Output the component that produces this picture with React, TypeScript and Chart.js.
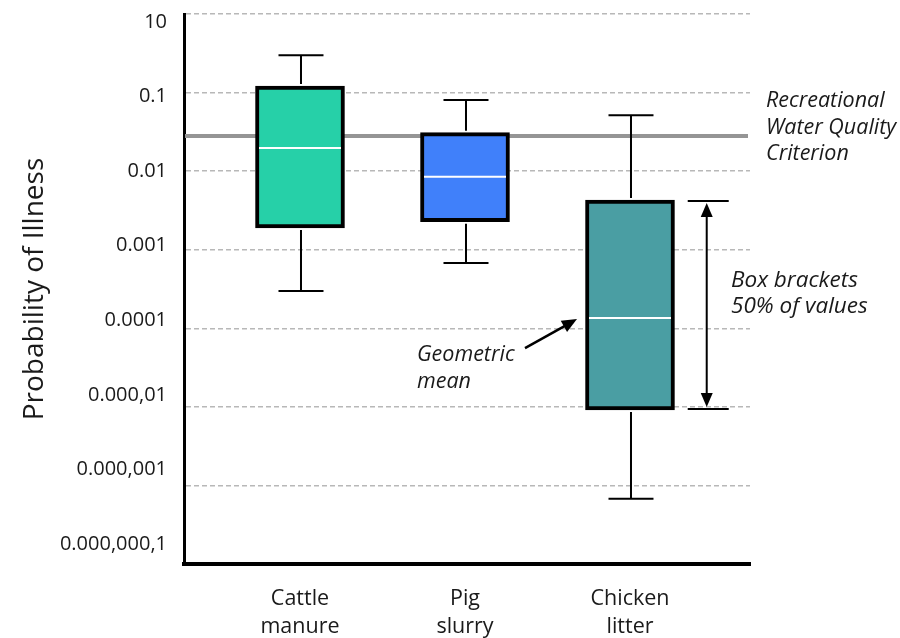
import React, { useEffect, useRef } from 'react';
import { Chart, registerables } from 'chart.js';

Chart.register(...registerables);

// ---- data ----
const categories = [['Cattle', 'manure'], ['Pig', 'slurry'], ['Chicken', 'litter']];
const whiskerHigh = [0.298, 0.0804, 0.0514];
const boxTop = [0.121, 0.0309, 0.00429];
const geoMean = [0.0197, 0.0085, 0.000135];
const boxBottom = [0.00189, 0.00227, 0.00000912];
const whiskerLow = [0.000298, 0.000678, 0.000000678];
const criterion = 0.028;
const yTickLabels = ['10', '0.1', '0.01', '0.001', '0.0001', '0.000,01', '0.000,001', '0.000,000,1'];
const gridDecades = [1, 0.1, 0.01, 0.001, 0.0001, 0.00001, 0.000001, 0.0000001];

// ---- styles ----
const boxColors = ['#26d0a8', '#4080fa', '#4a9ea3'];
const FONT = '"Open Sans", "Noto Sans", sans-serif';
const TEXT = '#1a1a1a';

function arrowHead(ctx: CanvasRenderingContext2D, x1: number, y1: number, x2: number, y2: number, len: number, halfW: number) {
  const a = Math.atan2(y2 - y1, x2 - x1);
  const c = Math.cos(a), s = Math.sin(a);
  ctx.beginPath();
  ctx.moveTo(x2, y2);
  ctx.lineTo(x2 - len * c + halfW * s, y2 - len * s - halfW * c);
  ctx.lineTo(x2 - len * c - halfW * s, y2 - len * s + halfW * c);
  ctx.closePath();
  ctx.fill();
}

const boxPlugin = {
  id: 'boxExtras',
  beforeDatasetsDraw(chart: any) {
    const { ctx, chartArea, scales } = chart;
    const y = scales.y;
    const yc = y.getPixelForValue(criterion);
    ctx.save();
    ctx.strokeStyle = '#959595';
    ctx.lineWidth = 4;
    ctx.beginPath();
    ctx.moveTo(chartArea.left + 1, yc);
    ctx.lineTo(chartArea.right - 2, yc);
    ctx.stroke();
    ctx.restore();
  },
  afterDatasetsDraw(chart: any) {
    const { ctx, scales } = chart;
    const x = scales.x, y = scales.y;
    ctx.save();
    ctx.lineCap = 'butt';
    categories.forEach((_, i) => {
      const cx = x.getPixelForValue(i) + 1;
      const capHalf = 22.5;
      ctx.strokeStyle = '#000';
      ctx.lineWidth = 2;
      const pHi = y.getPixelForValue(whiskerHigh[i]);
      const pTop = y.getPixelForValue(boxTop[i]);
      const pBot = y.getPixelForValue(boxBottom[i]);
      const pLo = y.getPixelForValue(whiskerLow[i]);
      ctx.beginPath();
      ctx.moveTo(cx, pHi); ctx.lineTo(cx, pTop - 2);
      ctx.moveTo(cx - capHalf, pHi); ctx.lineTo(cx + capHalf, pHi);
      ctx.moveTo(cx, pBot + 2); ctx.lineTo(cx, pLo);
      ctx.moveTo(cx - capHalf, pLo); ctx.lineTo(cx + capHalf, pLo);
      ctx.stroke();
      // geometric mean line
      const bx = x.getPixelForValue(i);
      const pm = y.getPixelForValue(geoMean[i]);
      ctx.strokeStyle = '#ffffff';
      ctx.lineWidth = 2;
      ctx.beginPath();
      ctx.moveTo(bx - 41, pm); ctx.lineTo(bx + 41, pm);
      ctx.stroke();
    });

    // annotations
    ctx.fillStyle = TEXT;
    ctx.strokeStyle = '#000';
    ctx.font = 'italic 21.5px ' + FONT;
    ctx.textAlign = 'left';
    ctx.textBaseline = 'alphabetic';
    const yc = y.getPixelForValue(criterion);
    ctx.fillText('Recreational', 766, yc - 29);
    ctx.fillText('Water Quality', 766, yc - 2);
    ctx.fillText('Criterion', 766, yc + 24);

    ctx.font = 'italic 22.5px ' + FONT;
    ctx.fillText('Box brackets', 731, 287);
    ctx.fillText('50% of values', 731, 313);

    ctx.font = 'italic 21.5px ' + FONT;
    ctx.fillText('Geometric', 417, 361);
    ctx.fillText('mean', 417, 388);

    // double arrow spanning the chicken box
    const ax = x.getPixelForValue(2.465);
    const aTop = y.getPixelForValue(boxTop[2]) + 1;
    const aBot = y.getPixelForValue(boxBottom[2]) - 1;
    ctx.fillStyle = '#000';
    ctx.lineWidth = 2;
    ctx.beginPath();
    ctx.moveTo(ax - 19, aTop); ctx.lineTo(ax + 22, aTop);
    ctx.moveTo(ax - 19, aBot); ctx.lineTo(ax + 22, aBot);
    ctx.moveTo(ax, aTop + 10); ctx.lineTo(ax, aBot - 10);
    ctx.stroke();
    arrowHead(ctx, ax, aBot, ax, aTop + 2, 14, 6);
    arrowHead(ctx, ax, aTop, ax, aBot - 2, 14, 6);

    // geometric mean arrow
    const tipX = x.getPixelForValue(2) - 53;
    const tipY = y.getPixelForValue(geoMean[2]) + 1;
    const sx = tipX - 52, sy = tipY + 29;
    ctx.lineWidth = 2.5;
    ctx.beginPath();
    ctx.moveTo(sx, sy);
    ctx.lineTo(tipX - 8, tipY + 4.5);
    ctx.stroke();
    arrowHead(ctx, sx, sy, tipX, tipY, 15, 6.5);
    ctx.restore();
  },
};

export default function App() {
  const ref = useRef<HTMLCanvasElement | null>(null);
  useEffect(() => {
    if (!ref.current) return;
    const chart = new Chart(ref.current, {
      type: 'bar',
      data: {
        datasets: [
          {
            data: categories.map((_, i) => ({ x: i, y: [boxBottom[i], boxTop[i]] })) as any,
            backgroundColor: boxColors,
            borderColor: '#000',
            borderWidth: 4,
            borderSkipped: false,
            barThickness: 89,
            xAxisID: 'x',
            yAxisID: 'y',
          } as any,
        ],
      },
      options: {
        responsive: false,
        animation: false,
        layout: { padding: { left: 0, top: 14, right: 150, bottom: 0 } },
        plugins: { legend: { display: false }, tooltip: { enabled: false } },
        scales: {
          x: {
            type: 'linear',
            position: 'bottom',
            offset: false,
            min: -0.703,
            max: 2.7273,
            afterBuildTicks: (s: any) => {
              s.ticks = categories.map((_, i) => ({ value: i }));
            },
            ticks: {
              callback: (v: any) => categories[v as number] as any,
              font: { family: FONT, size: 21.5, lineHeight: 1.3 },
              color: TEXT,
              padding: 21,
              maxRotation: 0,
              autoSkip: false,
            },
            grid: { display: false, offset: false, drawTicks: false, tickLength: 0 },
            border: { display: true, color: '#000', width: 4 },
            afterFit: (s: any) => {
              s.height = 74;
              s.paddingLeft = 0;
              s.paddingRight = 0;
            },
          } as any,
          y: {
            type: 'logarithmic',
            position: 'left',
            weight: 0,
            min: 1e-7,
            max: 1,
            afterBuildTicks: (s: any) => {
              s.ticks = gridDecades.map((v) => ({ value: v }));
            },
            ticks: { display: false },
            grid: { color: '#b8b8b8', lineWidth: 1.5, drawTicks: false, tickLength: 0 },
            border: { display: true, color: '#000', width: 3, dash: [5, 3] },
            afterFit: (s: any) => {
              s.width = 0;
              s.paddingTop = 0;
              s.paddingBottom = 0;
            },
          } as any,
          yl: {
            type: 'linear',
            position: 'left',
            weight: 1,
            min: -0.2682,
            max: 7.1073,
            afterBuildTicks: (s: any) => {
              s.ticks = yTickLabels.map((_, i) => ({ value: i }));
            },
            ticks: {
              callback: (v: any) => yTickLabels[yTickLabels.length - 1 - (v as number)],
              font: { family: FONT, size: 20 },
              color: TEXT,
              padding: 17,
            },
            grid: { display: false, drawTicks: false, tickLength: 0 },
            border: { display: false },
            title: {
              display: true,
              text: 'Probability of Illness',
              font: { family: FONT, size: 28 },
              color: TEXT,
              padding: { top: 18, bottom: 0 },
            },
            afterFit: (s: any) => {
              s.width = 184;
              s.paddingTop = 0;
              s.paddingBottom = 0;
            },
          } as any,
        },
      },
      plugins: [boxPlugin],
    });
    return () => chart.destroy();
  }, []);
  return (
    <div style={{ position: 'absolute', left: 0, top: 0, width: 900, height: 638 }}>
      <canvas ref={ref} width={900} height={638} style={{ display: 'block' }} />
    </div>
  );
}
